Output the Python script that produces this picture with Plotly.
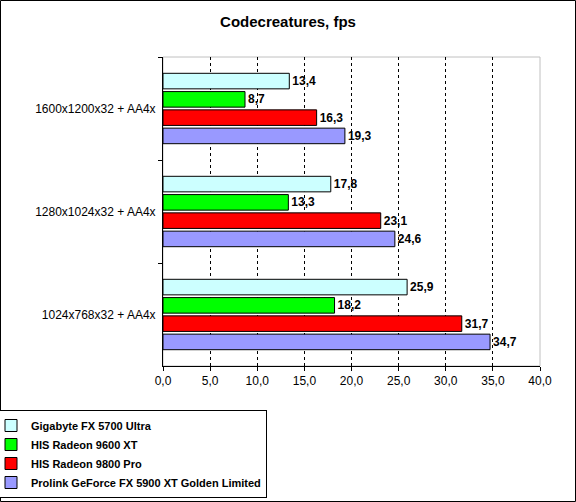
import plotly.graph_objects as go

categories = ["1600x1200x32 + AA4x", "1280x1024x32 + AA4x", "1024x768x32 + AA4x"]
series_names = [
    "Gigabyte FX 5700 Ultra",
    "HIS Radeon 9600 XT",
    "HIS Radeon 9800 Pro",
    "Prolink GeForce FX 5900 XT Golden Limited",
]
gigabyte = [13.4, 17.8, 25.9]
his_9600 = [8.7, 13.3, 18.2]
his_9800 = [16.3, 23.1, 31.7]
prolink = [19.3, 24.6, 34.7]
series_values = [gigabyte, his_9600, his_9800, prolink]
series_colors = ["#CCFFFF", "#00FF00", "#FF0000", "#9999FF"]

x_ticks = [0, 5, 10, 15, 20, 25, 30, 35, 40]

W, H = 576, 502
L, R, T, B = 163, 36, 57, 136
PW, PH = W - L - R, H - T - B

fig = go.Figure()
for name, vals, color in zip(series_names, series_values, series_colors):
    fig.add_trace(go.Bar(
        y=categories,
        x=vals,
        name=name,
        orientation="h",
        marker=dict(color=color, line=dict(color="black", width=1)),
        texttemplate="%{x:.1f}",
        textposition="outside",
        textfont=dict(family="Arial", size=12, color="black", weight="bold"),
        cliponaxis=False,
    ))

fig.update_layout(
    width=W,
    height=H,
    margin=dict(l=L, r=R, t=T, b=B, autoexpand=False),
    paper_bgcolor="white",
    plot_bgcolor="white",
    separators=", ",
    barmode="group",
    bargap=0.29,
    bargroupgap=0.15,
    font=dict(family="Arial", size=12, color="black"),
    title=dict(
        text="<b>Codecreatures, fps</b>",
        x=0.5, xref="container", xanchor="center",
        y=1 - 22 / H, yref="container", yanchor="middle",
        font=dict(family="Arial", size=15, color="black"),
    ),
    showlegend=True,
    legend=dict(
        x=(-10 - L) / PW, xanchor="left",
        y=1 - (410 - T) / PH, yanchor="top",
        bordercolor="black",
        borderwidth=1,
        bgcolor="white",
        font=dict(family="Arial", size=11, color="black", weight="bold"),
        tracegroupgap=0,
        traceorder="normal",
    ),
    xaxis=dict(
        range=[0, 40],
        tickvals=x_ticks,
        tickformat=".1f",
        automargin=False,
        showgrid=True,
        gridcolor="black",
        griddash="3px,3px",
        gridwidth=1,
        zeroline=False,
        showline=True,
        linecolor="black",
        linewidth=1,
        ticks="outside",
        ticklen=4,
        tickcolor="black",
        tickfont=dict(family="Arial", size=12, color="black"),
    ),
    yaxis=dict(
        autorange="reversed",
        automargin=False,
        showgrid=False,
        showline=True,
        linecolor="black",
        linewidth=1,
        ticks="outside",
        tickson="boundaries",
        ticklen=4,
        tickcolor="black",
        ticklabelstandoff=4,
        tickfont=dict(family="Arial", size=12, color="black"),
    ),
    shapes=[
        dict(type="rect", xref="paper", yref="paper", x0=0, x1=1, y0=0, y1=1,
             line=dict(color="#C0C0C0", width=1), layer="below"),
        dict(type="rect", xref="paper", yref="paper",
             x0=-(L - 0.5) / PW, x1=1 + (R - 0.5) / PW,
             y0=-(B - 0.5) / PH, y1=1 + (T - 0.5) / PH,
             line=dict(color="black", width=1), layer="above"),
    ],
)

# page body has a default 8px margin; drop it so the figure sits at 0,0
fig.write_html(
    "out.html",
    config={"displayModeBar": False},
    post_script="document.body.style.margin='0px';",
)
